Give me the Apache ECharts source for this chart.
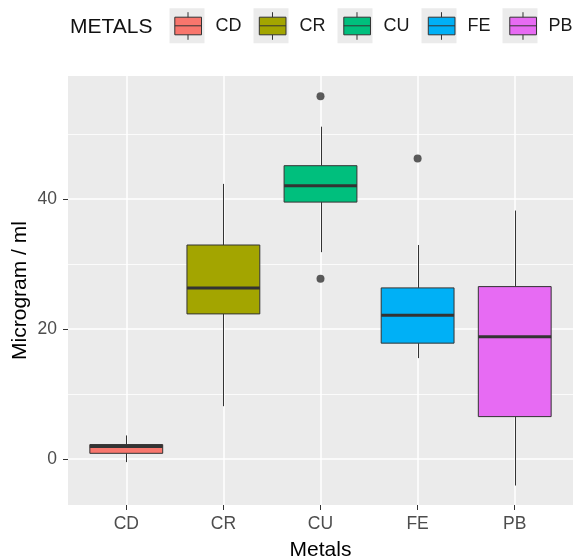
<!DOCTYPE html>
<html>
<head>
<meta charset="utf-8">
<script src="https://cdn.jsdelivr.net/npm/echarts@6/dist/echarts.min.js"></script>
<style>html,body{margin:0;padding:0;background:#fff;}#chart{width:573px;height:559px;}</style>
</head>
<body>
<div id="chart"></div>
<script>
// ---- data ----
const categories = ['CD', 'CR', 'CU', 'FE', 'PB'];
const lowerWhisker = [-0.5, 8.1, 31.8, 15.5, -4.1];
const q1Values = [0.85, 22.3, 39.5, 17.8, 6.5];
const medianValues = [1.9, 26.3, 42.0, 22.1, 18.8];
const q3Values = [2.2, 32.9, 45.1, 26.3, 26.5];
const upperWhisker = [3.6, 42.3, 51.1, 32.9, 38.2];
const outlierCategory = ['CU', 'CU', 'FE'];
const outlierValues = [55.8, 27.7, 46.2];
const yTickValues = [0, 20, 40];
const yMinorValues = [10, 30, 50];
const colors = ['#F8766D', '#A3A500', '#00BF7D', '#00B0F6', '#E76BF3'];

const FONT = 'Liberation Sans, Arial, sans-serif';
const BOX_WIDTH = 0.75;
const catIndex = categories.map((c, i) => i);

function renderBox(params, api) {
  const x = api.value(0);
  const lo = api.coord([x, api.value(1)]);
  const q1 = api.coord([x, api.value(2)]);
  const md = api.coord([x, api.value(3)]);
  const q3 = api.coord([x, api.value(4)]);
  const hi = api.coord([x, api.value(5)]);
  const w = api.size([BOX_WIDTH, 0])[0];
  const color = api.visual('color');
  const cx = Math.round(md[0]) + 0.5;
  return {
    type: 'group',
    children: [
      { type: 'line', shape: { x1: cx, y1: lo[1], x2: cx, y2: q1[1] }, style: { stroke: '#333333', lineWidth: 1 } },
      { type: 'line', shape: { x1: cx, y1: q3[1], x2: cx, y2: hi[1] }, style: { stroke: '#333333', lineWidth: 1 } },
      { type: 'rect', shape: { x: md[0] - w / 2, y: q3[1], width: w, height: q1[1] - q3[1] }, style: { fill: color, stroke: '#333333', lineWidth: 1 } },
      { type: 'line', shape: { x1: md[0] - w / 2, y1: md[1], x2: md[0] + w / 2, y2: md[1] }, style: { stroke: '#333333', lineWidth: 3 } }
    ]
  };
}

const boxSeries = categories.map((c, i) => ({
  name: c,
  type: 'custom',
  z: 3,
  itemStyle: { color: colors[i] },
  renderItem: renderBox,
  encode: { x: 0, y: [1, 2, 3, 4, 5] },
  data: [[i, lowerWhisker[i], q1Values[i], medianValues[i], q3Values[i], upperWhisker[i]]]
}));

const gridLines = [].concat(
  catIndex.map(v => ({ xAxis: v, lineStyle: { color: '#FFFFFF', width: 1.5, type: 'solid' } })),
  yTickValues.map(v => ({ yAxis: v, lineStyle: { color: '#FFFFFF', width: 1.5, type: 'solid' } })),
  yMinorValues.map(v => ({ yAxis: v, lineStyle: { color: '#FFFFFF', width: 0.8, type: 'solid' } }))
);

const outlierSeries = {
  name: 'outliers',
  type: 'scatter',
  z: 2,
  symbol: 'circle',
  symbolSize: 8,
  itemStyle: { color: '#333333' },
  data: outlierValues.map((v, i) => [categories.indexOf(outlierCategory[i]), v]),
  markLine: {
    z: 1,
    silent: true,
    symbol: ['none', 'none'],
    label: { show: false },
    animation: false,
    data: gridLines
  }
};

const boxIconPath = 'path://M0,0 M35,35 M4.8,8.4 L31.5,8.4 L31.5,26 L4.8,26 Z M4.8,17 L31.5,17 M18,3.4 L18,8.4 M18,26 L18,31';

const legendCommon = {
  orient: 'horizontal',
  left: 169.5,
  top: 8.3,
  width: 460,
  padding: 0,
  itemWidth: 35,
  itemHeight: 35,
  itemGap: 12,
  selectedMode: false,
  data: categories
};

const option = {
  animation: false,
  color: colors,
  title: {
    text: 'METALS',
    left: 70,
    top: 17,
    padding: 0,
    textStyle: { fontFamily: FONT, fontSize: 21, fontWeight: 'normal', color: '#111111' }
  },
  legend: [
    Object.assign({}, legendCommon, {
      z: 4,
      icon: 'rect',
      itemStyle: { color: '#EBEBEB', borderWidth: 0 },
      textStyle: { fontFamily: FONT, fontSize: 18, color: '#1A1A1A', padding: [4, 0, 0, 6] }
    }),
    Object.assign({}, legendCommon, {
      z: 5,
      icon: boxIconPath,
      itemStyle: { borderColor: '#333333', borderWidth: 1 },
      textStyle: { fontFamily: FONT, fontSize: 18, color: 'rgba(0,0,0,0)', padding: [4, 0, 0, 6] }
    })
  ],
  grid: {
    left: 68,
    right: 0,
    top: 76,
    bottom: 54,
    show: true,
    backgroundColor: '#EBEBEB',
    borderWidth: 0,
    containLabel: false,
    outerBoundsMode: 'none'
  },
  xAxis: {
    type: 'value',
    min: -0.6,
    max: 4.6,
    axisLine: { show: false, onZero: false },
    splitLine: { show: false },
    axisTick: { show: true, customValues: catIndex, length: 5, lineStyle: { color: '#333333', width: 1 } },
    axisLabel: {
      customValues: catIndex,
      formatter: v => categories[Math.round(v)],
      fontFamily: FONT, fontSize: 17.5, color: '#4D4D4D', margin: 10
    },
    name: 'Metals',
    nameLocation: 'middle',
    nameGap: 35,
    nameMoveOverlap: false,
    nameTextStyle: { fontFamily: FONT, fontSize: 21, color: '#000000' }
  },
  yAxis: {
    type: 'value',
    min: -7.1,
    max: 58.9,
    axisLine: { show: false, onZero: false },
    splitLine: { show: false },
    axisTick: { show: true, customValues: yTickValues, length: 5, lineStyle: { color: '#333333', width: 1 } },
    axisLabel: {
      customValues: yTickValues,
      fontFamily: FONT, fontSize: 17.5, color: '#4D4D4D', margin: 11
    },
    name: 'Microgram / ml',
    nameLocation: 'middle',
    nameGap: 37,
    nameMoveOverlap: false,
    nameRotate: 90,
    nameTextStyle: { fontFamily: FONT, fontSize: 21, color: '#000000' }
  },
  series: boxSeries.concat([outlierSeries])
};

const chart = echarts.init(document.getElementById('chart'), null, { renderer: 'canvas' });
chart.setOption(option);
</script>
</body>
</html>
